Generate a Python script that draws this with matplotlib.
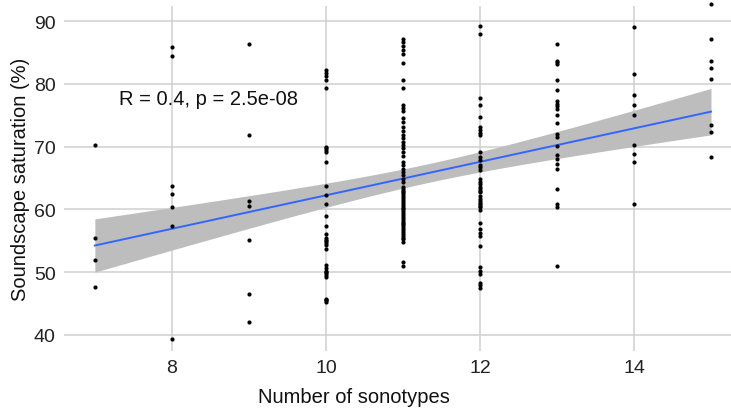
import numpy as np
import matplotlib.pyplot as plt

plt.rcParams['font.family'] = ['Liberation Sans', 'DejaVu Sans']

# soundscape saturation (%) per site, grouped by number of sonotypes
# (dense runs include overlapping sites)
sonotypes = [7, 8, 9, 10, 11, 12, 13, 14, 15]
sat_7 = [70.3, 55.5, 52.0, 47.7]
sat_8 = [85.9, 84.5, 63.7, 62.5, 60.4, 57.3, 39.4]
sat_9 = [86.4, 71.9, 61.3, 60.6, 55.1, 46.5, 42.1]
sat_10 = [82.2, 81.7, 81.2, 80.6, 79.4, 69.9, 69.7, 69.5, 69.1, 67.6, 63.7,
          62.3, 60.9, 58.9, 57.4, 56.1, 55.5, 55.2, 54.9, 54.6, 54.3, 53.7,
          51.2, 50.7, 50.2, 50.0, 49.8, 49.5, 49.2, 45.7, 45.6, 45.5, 45.3]
sat_11 = [87.2, 86.6, 86.0, 85.4, 84.7, 83.3, 80.6, 79.3, 76.7, 76.1, 75.6,
          74.5, 73.9, 73.2, 72.5, 71.8, 71.3, 70.8, 70.3, 69.8, 69.1, 68.5,
          67.5, 67.0, 66.4, 65.9, 65.4, 64.9, 64.3, 63.6, 63.3, 63.0, 62.7,
          62.4, 62.1, 61.8, 61.5, 61.2, 60.9, 60.6, 60.3, 60.0, 59.7, 59.4,
          59.1, 58.8, 58.5, 58.2, 57.9, 57.6, 57.3, 57.0, 56.7, 56.4, 56.1,
          55.8, 55.5, 55.3, 54.8, 51.6, 51.0]
sat_12 = [89.2, 88.0, 77.8, 76.6, 74.7, 73.1, 72.6, 72.2, 71.8, 69.1, 68.3,
          67.8, 67.1, 66.7, 66.2, 64.8, 64.4, 64.0, 63.6, 63.2, 63.0, 62.7,
          62.2, 61.7, 61.3, 61.0, 60.8, 60.6, 60.4, 59.9, 57.8, 56.9, 56.3,
          55.7, 54.2, 50.9, 50.2, 49.7, 48.3, 47.9, 47.5]
sat_13 = [86.3, 83.7, 83.4, 83.1, 80.6, 79.0, 77.2, 76.8, 76.4, 76.0, 75.0,
          73.8, 72.0, 71.5, 70.1, 68.7, 68.1, 67.2, 66.4, 63.2, 60.9, 60.4, 51.0]
sat_14 = [89.0, 81.6, 78.2, 76.6, 75.0, 70.3, 68.8, 67.6, 60.9]
sat_15 = [92.7, 87.1, 83.7, 82.5, 80.8, 73.4, 72.3, 68.3]
stat_label = "R = 0.4, p = 2.5e-08"

groups = [sat_7, sat_8, sat_9, sat_10, sat_11, sat_12, sat_13, sat_14, sat_15]
x = np.concatenate([[n] * len(g) for n, g in zip(sonotypes, groups)]).astype(float)
y = np.concatenate(groups)

# linear fit with 95% confidence band
slope, intercept = np.polyfit(x, y, 1)
xs = np.linspace(x.min(), x.max(), 80)
fit = intercept + slope * xs
n = len(x)
resid = y - (intercept + slope * x)
s = np.sqrt(np.sum(resid ** 2) / (n - 2))
se = s * np.sqrt(1 / n + (xs - x.mean()) ** 2 / np.sum((x - x.mean()) ** 2))
t_crit = 1.973
lo, hi = fit - t_crit * se, fit + t_crit * se

fig = plt.figure(figsize=(7.31, 4.10), dpi=100)
ax = fig.add_axes([0.0876, 0.1415, 0.9124, 0.8415])

ax.fill_between(xs, lo, hi, color='#bdbdbd', lw=0, zorder=2)
ax.plot(xs, fit, color='#3366ff', lw=1.4, zorder=3)
ax.scatter(x, y, s=9, color='black', lw=0, zorder=4, clip_on=False)

ax.text(7.32, 77.7, stat_label, fontsize=14.5, color='#111111', va='center')

ax.set_xlim(6.6, 15.26)
ax.set_ylim(37.45, 92.4)
ax.set_xticks([8, 10, 12, 14])
ax.set_yticks([40, 50, 60, 70, 80, 90])
ax.grid(True, color='#cfcfcf', lw=1.1)
ax.set_axisbelow(True)
for sp in ax.spines.values():
    sp.set_visible(False)
ax.tick_params(length=0, labelsize=14, labelcolor='#222222', pad=6)
ax.set_xlabel("Number of sonotypes", fontsize=14.5, color='#111111', labelpad=4)
ax.xaxis.set_label_coords(0.435, -0.105)
ax.set_ylabel("Soundscape saturation (%)", fontsize=14.5, color='#111111', labelpad=3)

fig.savefig("out.png", dpi=100)
